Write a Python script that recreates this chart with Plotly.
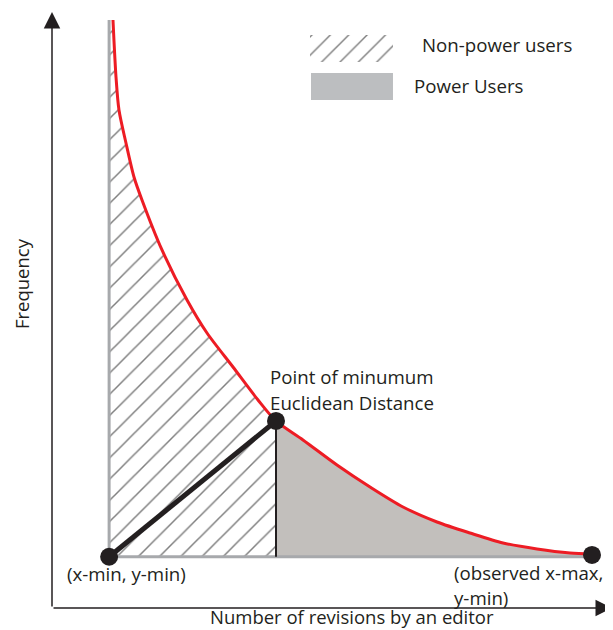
import plotly.graph_objects as go

# ---- data (conceptual units: axes run 0..100) ----
curve_x = [10.89, 11.43, 11.96, 13.21, 14.64, 16.07, 19.64, 24.11, 27.68, 32.32, 36.79,
           40.0, 44.82, 50.89, 56.79, 62.68, 68.75, 74.64, 80.54, 86.61, 92.5, 96.43]
curve_y = [98.66, 89.09, 83.56, 78.02, 72.32, 68.46, 60.07, 51.68, 46.14, 40.44, 34.9,
           31.38, 28.19, 23.99, 20.3, 16.95, 14.43, 12.58, 10.91, 9.9, 9.23, 9.06]

x_min = 10.2
y_min = 8.6
split_x = 40.0          # point of minimum euclidean distance
split_y = 31.38
x_max = 96.43
x_max_y = 8.9
axis_len = 100

legend_labels = ["Non-power users", "Power Users"]
x_title = "Number of revisions by an editor"
y_title = "Frequency"
labels_min = "(x-min, y-min)"
labels_max = ["(observed x-max,", "y-min)"]
labels_split = ["Point of minumum", "Euclidean Distance"]

INK = "#231f20"
RED = "#ed1c24"
LGRAY = "#a7a9ac"
FILLGRAY = "#c2bfbc"
LEGGRAY = "#bcbec0"
FONT = "Open Sans"
FS = 18.7

fig = go.Figure()

# hatched region (non-power users)
k = curve_x.index(split_x)
hx = [x_min, x_min] + curve_x[:k + 1] + [split_x, x_min]
hy = [y_min, curve_y[0]] + curve_y[:k + 1] + [y_min, y_min]
fig.add_trace(go.Scatter(x=hx, y=hy, mode="lines", fill="toself", line=dict(width=0),
                         fillcolor="white",
                         fillpattern=dict(shape="/", size=15, solidity=0.1,
                                          fgcolor="#000000", bgcolor="white"),
                         hoverinfo="skip", showlegend=False))
# gray region (power users)
gx = curve_x[k:] + [x_max, split_x, split_x]
gy = curve_y[k:] + [y_min, y_min, curve_y[k]]
fig.add_trace(go.Scatter(x=gx, y=gy, mode="lines", fill="toself", line=dict(width=0),
                         fillcolor=FILLGRAY, hoverinfo="skip", showlegend=False))

# gray frame lines
fig.add_trace(go.Scatter(x=[x_min, x_min], y=[curve_y[0], y_min], mode="lines",
                         line=dict(color=LGRAY, width=3), hoverinfo="skip", showlegend=False))
fig.add_trace(go.Scatter(x=[x_min, x_max], y=[y_min, y_min], mode="lines",
                         line=dict(color=LGRAY, width=3), hoverinfo="skip", showlegend=False))

# red curve
fig.add_trace(go.Scatter(x=curve_x, y=curve_y, mode="lines",
                         line=dict(color=RED, width=3, shape="spline", smoothing=0.8),
                         hoverinfo="skip", showlegend=False))

# black split line and distance line
fig.add_trace(go.Scatter(x=[split_x, split_x], y=[split_y, y_min], mode="lines",
                         line=dict(color=INK, width=2), hoverinfo="skip", showlegend=False))
fig.add_trace(go.Scatter(x=[x_min, split_x], y=[y_min, split_y], mode="lines",
                         line=dict(color=INK, width=5), hoverinfo="skip", showlegend=False))
fig.add_trace(go.Scatter(x=[x_min, split_x, x_max], y=[y_min, split_y, x_max_y], mode="markers",
                         marker=dict(color=INK, size=18), hoverinfo="skip", showlegend=False))

# legend swatches
fig.add_trace(go.Scatter(x=[46.07, 60.89, 60.89, 46.07, 46.07], y=[91.61, 91.61, 96.14, 96.14, 91.61],
                         mode="lines", fill="toself", line=dict(width=0), fillcolor="white",
                         fillpattern=dict(shape="/", size=13, solidity=0.11,
                                          fgcolor="#000000", bgcolor="white"),
                         hoverinfo="skip", showlegend=False))
fig.add_shape(type="rect", x0=46.25, x1=60.89, y0=85.23, y1=89.77,
              fillcolor=LEGGRAY, line=dict(width=0))

# axes with arrows
for (x0, y0, x1, y1) in [(0, 0, 0, axis_len), (0, 0, axis_len, 0)]:
    fig.add_annotation(x=x1, y=y1, ax=x0, ay=y0, xref="x", yref="y", axref="x", ayref="y",
                       showarrow=True, arrowhead=2, arrowsize=2.2, arrowwidth=1.5,
                       arrowcolor=INK, text="")

def txt(x, y, s, anchor="left", size=FS, angle=0):
    fig.add_annotation(x=x, y=y, text=s, showarrow=False, xanchor=anchor, yanchor="middle",
                       textangle=angle, font=dict(family=FONT, size=size, color=INK))

txt(2.32, 5.87, labels_min)
txt(71.43, 6.04, labels_max[0])
txt(71.43, 1.68, labels_max[1])
txt(38.57, 38.76, labels_split[0])
txt(38.57, 34.56, labels_split[1])
txt(53.57, -1.5, x_title, anchor="center", size=18.5)
txt(-5.55, 54.5, y_title, anchor="center", angle=-90, size=18.5)
txt(65.71, 94.63, legend_labels[0])
txt(64.29, 87.75, legend_labels[1])

# page body has an 8px margin: the figure is 8px smaller and its origin shifted accordingly
W, H, OFF = 605, 622, 8
x0px, y0px = 52 - OFF, 608 - OFF
fig.update_xaxes(range=[-x0px / 5.6, (W - x0px) / 5.6], visible=False, showgrid=False, zeroline=False)
fig.update_yaxes(range=[-(H - y0px) / 5.96, y0px / 5.96], visible=False, showgrid=False, zeroline=False)
fig.update_layout(width=W, height=H, margin=dict(l=0, r=0, t=0, b=0),
                  plot_bgcolor="white", paper_bgcolor="white")

fig.write_html("out.html")
